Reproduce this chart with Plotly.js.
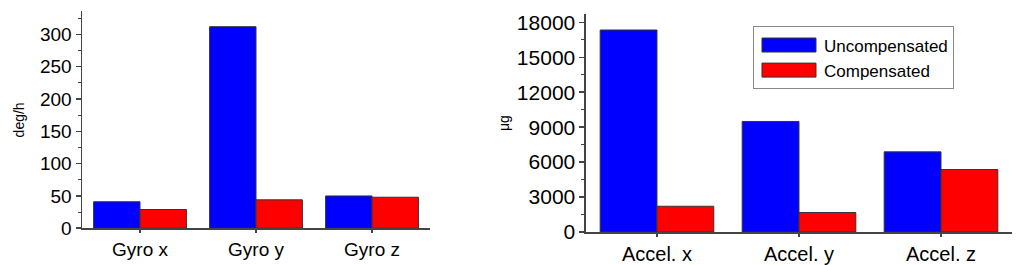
<!DOCTYPE html>
<html lang="en">
<head>
    <meta charset="UTF-8">
    <title>Gyro / Accel bias</title>
    <script src="https://cdn.plot.ly/plotly-3.0.1.min.js"></script>
    <style>
        body { margin: 0; background: #fff; }
        #myDiv { width: 1024px; height: 265px; }
    </style>
</head>
<body>
    <div id="myDiv"></div>
    <script>
        // values
        var gyroCats = ['Gyro x', 'Gyro y', 'Gyro z']
        var gyroUncomp = [41, 312, 50]
        var gyroComp = [29, 44, 48]

        var accelCats = ['Accel. x', 'Accel. y', 'Accel. z']
        var accelUncomp = [17340, 9490, 6880]
        var accelComp = [2210, 1670, 5360]

        var seriesNames = ['Uncompensated', 'Compensated']

        var font = 'Liberation Sans, Arial, sans-serif'
        var outline = { color: '#333', width: 1 }

        var trace1 = {
            x: gyroCats, y: gyroUncomp, type: 'bar', name: seriesNames[0],
            xaxis: 'x', yaxis: 'y', legendgroup: 'u', showlegend: false,
            marker: { color: '#0000ff', line: outline }
        }
        var trace2 = {
            x: gyroCats, y: gyroComp, type: 'bar', name: seriesNames[1],
            xaxis: 'x', yaxis: 'y', legendgroup: 'c', showlegend: false,
            marker: { color: '#ff0000', line: outline }
        }
        var trace3 = {
            x: accelCats, y: accelUncomp, type: 'bar', name: seriesNames[0],
            xaxis: 'x2', yaxis: 'y2', legendgroup: 'u',
            marker: { color: '#0000ff', line: outline }
        }
        var trace4 = {
            x: accelCats, y: accelComp, type: 'bar', name: seriesNames[1],
            xaxis: 'x2', yaxis: 'y2', legendgroup: 'c',
            marker: { color: '#ff0000', line: outline }
        }

        function xAxis(domain, anchor, size) {
            return {
                domain: domain, anchor: anchor,
                showline: true, linecolor: '#444', linewidth: 1.5,
                ticks: 'outside', ticklen: 3, tickcolor: '#444', tickwidth: 1.5,
                tickfont: { family: font, size: size, color: '#000' },
                showgrid: false, zeroline: false, fixedrange: true
            }
        }
        function yAxis(domain, anchor, range, dtick, minor, title, size, standoff) {
            return {
                domain: domain, anchor: anchor, range: range,
                dtick: dtick, tick0: 0, tickformat: 'd',
                showline: true, linecolor: '#444', linewidth: 1.5,
                ticks: 'outside', ticklen: 5, tickcolor: '#444', tickwidth: 1.5,
                minor: { dtick: minor, ticks: 'outside', ticklen: 3, tickcolor: '#444', tickwidth: 1 },
                tickfont: { family: font, size: size, color: '#000' },
                title: { text: title, font: { family: font, size: 14, color: '#000' }, standoff: standoff },
                showgrid: false, zeroline: false, fixedrange: true
            }
        }

        var layout = {
            width: 1024, height: 265,
            margin: { l: 82, r: 12, t: 11, b: 33 },
            paper_bgcolor: '#fff', plot_bgcolor: '#fff',
            barmode: 'group', bargap: 0.2, bargroupgap: 0,
            font: { family: font, color: '#000' },
            xaxis: xAxis([0, 0.3742], 'y', 19),
            yaxis: yAxis([0.017, 0.998], 'x', [0, 335.6], 50, 25, 'deg/h', 19, 12),
            xaxis2: xAxis([0.5419, 1], 'y2', 20),
            yaxis2: yAxis([0, 0.9864], 'x2', [0, 18714], 3000, 1500, 'μg', 21, 4),
            showlegend: true,
            legend: {
                x: 0.7215, y: 0.93, xanchor: 'left', yanchor: 'top',
                bgcolor: '#fff', bordercolor: '#888', borderwidth: 1,
                font: { family: font, size: 17, color: '#000' },
                itemwidth: 60, tracegroupgap: 0, traceorder: 'normal'
            }
        }

        var data = [trace1, trace2, trace3, trace4]
        Plotly.newPlot('myDiv', data, layout, { staticPlot: true }).then(function () {
            // wide legend swatches like the original
            document.querySelectorAll('.legend .legendpoints path').forEach(function (p) {
                p.setAttribute('d', 'M27,7H-27V-7H27Z')
            })
        })
    </script>
</body>
</html>
